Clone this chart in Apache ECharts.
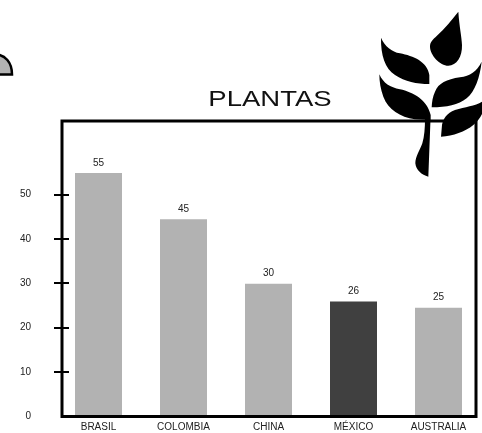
<!DOCTYPE html>
<html><head><meta charset="utf-8">
<style>html,body{margin:0;padding:0;background:#fff}#c{width:482px;height:433px}</style>
<script src="https://cdn.jsdelivr.net/npm/echarts@6/dist/echarts.min.js"></script>
</head><body><div id="c"></div>
<script>
var categories = ['BRASIL','COLOMBIA','CHINA','MÉXICO','AUSTRALIA'];
var barHeights = [54.8,44.4,29.9,25.9,24.5];
var valueLabels = ['55','45','30','26','25'];
var barColors = ['#b2b2b2','#b2b2b2','#b2b2b2','#404040','#b2b2b2'];
var yLabelValues = [0,10,20,30,40,50];
var yTickValues = [10,20,30,40,50];
var FONT = '"Liberation Sans", Arial, sans-serif';
var plant =
 'M355 35C358 80 365 110 366 135C367 170 350 197 325 197C300 197 270 165 270 140C270 125 280 118 290 108C315 85 335 60 355 35Z' +
 'M123 113C135 140 155 155 180 160C220 168 262 185 268 225L268 252C230 252 195 245 165 225C135 205 122 165 123 113Z' +
 'M425 185C410 215 390 228 360 232C320 238 295 250 285 275C278 290 276 305 275 322C320 322 355 315 380 295C405 275 420 230 425 185Z' +
 'M118 223C130 250 150 262 180 268C220 277 262 300 272 345L272 360L225 358C180 350 145 330 130 290C122 268 118 245 118 223Z' +
 'M426 305C405 318 375 320 345 330C320 340 310 355 306 375L303 410C340 408 375 395 400 375C412 365 420 355 426 342Z' +
 'M272 345L265 530C245 525 228 510 226 490C226 470 240 450 247 430C253 410 255 385 255 355Z';
var nub = 'M-4 54.5C5 55 12 62 12 74.5L-4 74.5';
echarts.graphic.registerShape('plantShape', echarts.graphic.extendPath(plant));
echarts.graphic.registerShape('nubShape', echarts.graphic.extendPath(nub));
var chart = echarts.init(document.getElementById('c'), null, {renderer:'canvas'});
chart.setOption({
  animation:false,
  backgroundColor:'#fff',
  grid:{left:56,width:425,top:121,height:295.5},
  xAxis:{type:'category',data:categories,axisLine:{show:false},axisTick:{show:false},
    axisLabel:{fontFamily:FONT,fontSize:10,color:'#222',margin:6,interval:0}},
  yAxis:{type:'value',min:0,max:66.5,interval:10,offset:-13,splitLine:{show:false},axisLine:{show:false},
    axisTick:{show:true,length:15,customValues:yTickValues,lineStyle:{color:'#000',width:2}},
    axisLabel:{fontFamily:FONT,fontSize:10,color:'#222',margin:38,customValues:yLabelValues}},
  series:[{type:'bar',barWidth:47,
    data:barHeights.map(function(v,i){return {value:v,itemStyle:{color:barColors[i]}};}),
    label:{show:true,position:'top',distance:5,fontFamily:FONT,fontSize:10,color:'#222',
      formatter:function(p){return valueLabels[p.dataIndex];}}}],
  graphic:[
    {type:'text',z:60,x:270,y:100,scaleX:1.25,style:{text:'PLANTAS',x:0,y:0,align:'center',verticalAlign:'middle',fontFamily:FONT,fontSize:22,fill:'#111'}},
    {type:'rect',z:50,shape:{x:62,y:121,width:414,height:295.5},style:{fill:'none',stroke:'#000',lineWidth:3}},
    {type:'plantShape',z:60,x:340,y:0,scaleX:1/3,scaleY:1/3,style:{fill:'#000'}},
    {type:'nubShape',z:60,style:{fill:'#b2b2b2',stroke:'#000',lineWidth:2.5}}
  ]
});
</script></body></html>
